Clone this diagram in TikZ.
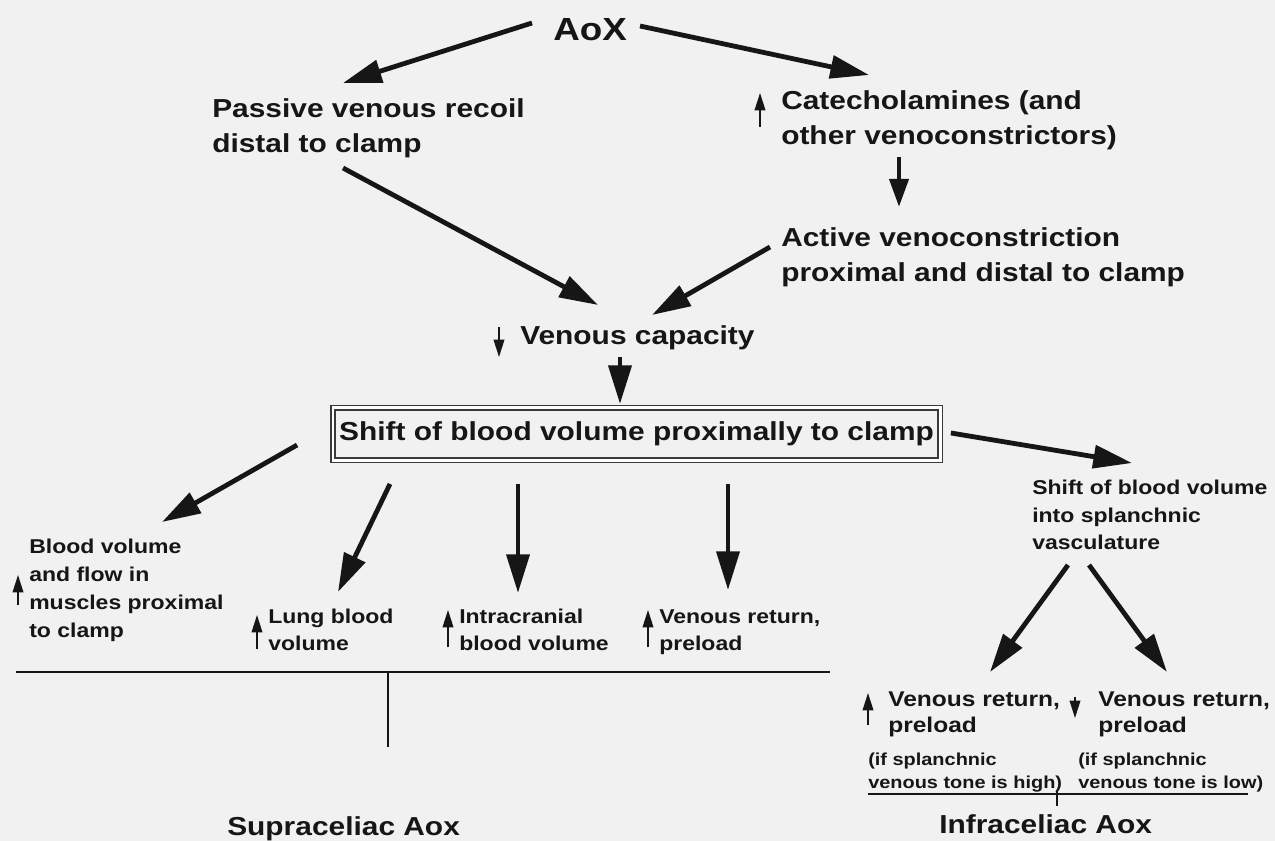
\documentclass[tikz,border=0pt]{standalone}
\usepackage{fontspec}
\setmainfont{Liberation Sans}[FakeStretch=1.15]
\usetikzlibrary{arrows.meta,calc}
\definecolor{bg}{RGB}{241,241,241}
\definecolor{ink}{RGB}{22,22,22}
% stacked lines whose baseline is that of the first line
\newcommand\stk[1]{\vtop{\halign{##\hfil\cr#1\crcr}}}
\begin{document}
\begin{tikzpicture}[x=0.75pt,y=-0.75pt,
  txt/.style={inner sep=0pt, anchor=base west, text=ink},
  fbig/.style={font=\fontsize{24pt}{28pt}\selectfont\bfseries},
  fmain/.style={font=\fontsize{19.5pt}{26pt}\selectfont\bfseries},
  fsmall/.style={font=\fontsize{15pt}{20.5pt}\selectfont\bfseries},
  fmusc/.style={font=\fontsize{15pt}{21pt}\selectfont\bfseries},
  fmid/.style={font=\fontsize{16pt}{20pt}\selectfont\bfseries},
  ftiny/.style={font=\fontsize{13pt}{17.5pt}\selectfont\bfseries},
  big/.style={draw=ink, line width=3.6pt, -{Triangle[length=29pt,width=17pt]}},
  midarrow/.style={draw=ink, line width=3.6pt, -{Triangle[length=21pt,width=14pt]}},
  updown/.style={draw=ink, line width=1.2pt, -{Triangle[length=13pt,width=8pt]}},
  rule/.style={draw=ink, line width=1.5pt},
  thinrule/.style={draw=ink, line width=0.9pt},
  shiftbox/.style={draw=ink!85, line width=1.1pt, double=white, double distance=2pt,
     inner sep=0pt, minimum width=455.5pt, minimum height=39.3pt, text=ink}
]
\useasboundingbox (0,0) rectangle (1275,841);
\fill[bg] (0,0) rectangle (1275,841);

% ---- nodes ----
\node[txt,fbig] (aox) at (553,41) {AoX};
\node[txt,fmain] (passive) at (212,118) {\stk{Passive venous recoil\cr distal to clamp}};
\node[txt,fmain] (cat) at (781,110) {\stk{Catecholamines (and\cr other venoconstrictors)}};
\node[txt,fmain] (active) at (781,247) {\stk{Active venoconstriction\cr proximal and distal to clamp}};
\node[txt,fmain] (vc) at (520,345) {Venous capacity};
\node[shiftbox,fmain] (box) at (636.5,434) {Shift of blood volume proximally to clamp};
\node[txt,fsmall] (spl) at (1032,495) {\stk{Shift of blood volume\cr into splanchnic\cr vasculature}};
\node[txt,fmusc] (musc) at (29,553) {\stk{Blood volume\cr and flow in\cr muscles proximal\cr to clamp}};
\node[txt,fsmall] (lung) at (268,623) {\stk{Lung blood\cr volume}};
\node[txt,fsmall] (intra) at (459,623) {\stk{Intracranial\cr blood volume}};
\node[txt,fsmall] (vr) at (659,623) {\stk{Venous return,\cr preload}};
\node[txt,fmid] (vrl) at (888,706) {\stk{Venous return,\cr preload}};
\node[txt,fmid] (vrr) at (1098,706) {\stk{Venous return,\cr preload}};
\node[txt,ftiny] (ifl) at (868,765) {\stk{(if splanchnic\cr venous tone is high)}};
\node[txt,ftiny] (ifr) at (1078,765) {\stk{(if splanchnic\cr venous tone is low)}};
\node[txt,fmain] (supra) at (227,835) {Supraceliac Aox};
\node[txt,fmain] (infra) at (939,833) {Infraceliac Aox};

% ---- main connectors ----
\draw[big] ([shift={(-21,-18)}]aox.base west) -- ([shift={(131,-35)}]passive.base west);
\draw[big] ([shift={(87,-15)}]aox.base west) -- ([shift={(88,-35)}]cat.base west);
\draw[midarrow] ([shift={(118,47)}]cat.base west) -- ([shift={(118,-40)}]active.base west);
\draw[big] ([shift={(131,50)}]passive.base west) -- ([shift={(78,-40)}]vc.base west);
\draw[big] ([shift={(-11,0)}]active.base west) -- ([shift={(132,-30)}]vc.base west);
\draw[big] ([shift={(100,12)}]vc.base west) -- ([shift={(-16.5,-3)}]box.north);
\draw[big] ([shift={(-35,11)}]box.west) -- ([shift={(133,-31)}]musc.base west);
\draw[big] ([shift={(-246.5,23)}]box.south) -- ([shift={(70,-31)}]lung.base west);
\draw[big] ([shift={(-118.5,23)}]box.south) -- ([shift={(59,-30)}]intra.base west);
\draw[big] ([shift={(91.5,23)}]box.south) -- ([shift={(69,-33)}]vr.base west);
\draw[big] ([shift={(10,-1)}]box.east) -- ([shift={(100,-32)}]spl.base west);
\draw[big] ([shift={(36,70)}]spl.base west) -- ([shift={(102,-34)}]vrl.base west);
\draw[big] ([shift={(57,70)}]spl.base west) -- ([shift={(69,-34)}]vrr.base west);

% ---- increase / decrease marks ----
\draw[updown] ([shift={(-21,17)}]cat.base west) -- ([shift={(-21,-17)}]cat.base west);
\draw[updown] ([shift={(-21,-18)}]vc.base west) -- ([shift={(-21,12)}]vc.base west);
\draw[updown] ([shift={(-11,52)}]musc.base west) -- ([shift={(-11,22)}]musc.base west);
\draw[updown] ([shift={(-11,26)}]lung.base west) -- ([shift={(-11,-8)}]lung.base west);
\draw[updown] ([shift={(-11,24)}]intra.base west) -- ([shift={(-11,-13)}]intra.base west);
\draw[updown] ([shift={(-11,24)}]vr.base west) -- ([shift={(-11,-13)}]vr.base west);
\draw[updown] ([shift={(-20,19)}]vrl.base west) -- ([shift={(-20,-13)}]vrl.base west);
\draw[updown] ([shift={(-23,-9)}]vrr.base west) -- ([shift={(-23,12)}]vrr.base west);

% ---- grouping rules ----
\coordinate (sl) at (16,672);
\coordinate (sr) at (830,672);
\coordinate (sm) at (388,672);
\coordinate (sb) at (388,747);
\draw[rule] (sl) -- (sr);
\draw[thinrule] (sm) -- (sb);
\coordinate (il) at (868,794);
\coordinate (ir) at (1248,794);
\coordinate (it) at (1057,791);
\coordinate (ib) at (1057,806);
\draw[rule] (il) -- (ir);
\draw[thinrule] (it) -- (ib);
\end{tikzpicture}
\end{document}
